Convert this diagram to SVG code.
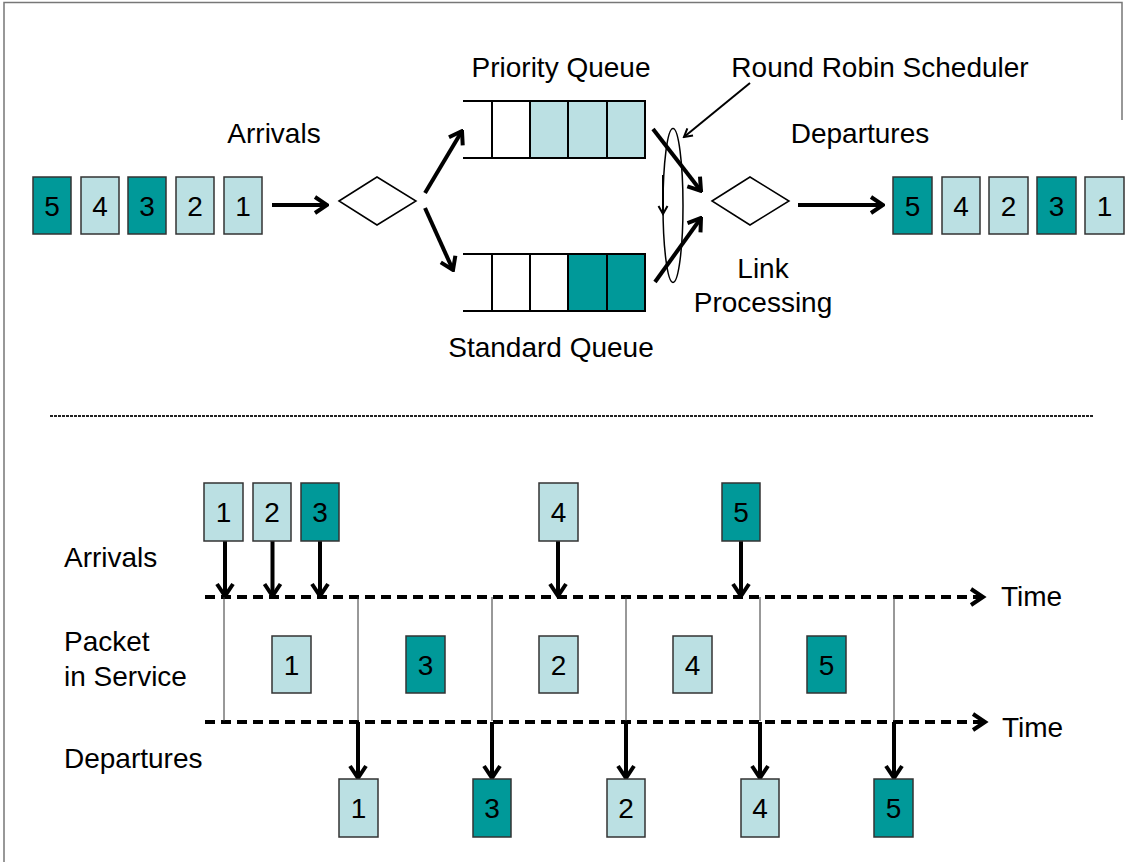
<svg xmlns="http://www.w3.org/2000/svg" width="1143" height="862" viewBox="0 0 1143 862">
<defs>
<style>
text{font-family:"Liberation Sans",Arial,sans-serif;font-size:28px;fill:#000}
.c{text-anchor:middle}
.lt{fill:#BBE0E3;stroke:#333;stroke-width:1.5}
.dk{fill:#009999;stroke:#333;stroke-width:1.5}
.q{stroke:#000;stroke-width:2;fill:none}
.a{stroke:#000;stroke-width:4;fill:none;marker-end:url(#ah)}
.as{stroke:#000;stroke-width:2;fill:none;marker-end:url(#ahs)}
.dash{stroke:#000;stroke-width:4;stroke-dasharray:10 6;fill:none}
.thin{stroke:#333;stroke-width:1;fill:none}
</style>
<marker id="ah" markerUnits="userSpaceOnUse" viewBox="-15 -10 17 20" refX="0" refY="0" markerWidth="17" markerHeight="20" orient="auto">
<path d="M-12,-8 L0,0 L-12,8" fill="none" stroke="#000" stroke-width="4"/>
</marker>
<marker id="ahs" markerUnits="userSpaceOnUse" viewBox="-10 -6 12 12" refX="0" refY="0" markerWidth="12" markerHeight="12" orient="auto">
<path d="M-8,-4.5 L0,0 L-8,4.5" fill="none" stroke="#000" stroke-width="2"/>
</marker>
</defs>
<rect width="1143" height="862" fill="#fff"/>
<g id="frame" stroke="#777" stroke-width="1.5" fill="none">
<path d="M4,862 V2.5 H1122 V120"/>
</g>

<g id="connectors">
<line class="a" x1="272" y1="205" x2="327" y2="205"/>
<line class="a" x1="425" y1="193" x2="462" y2="131"/>
<line class="a" x1="425" y1="208" x2="453" y2="270"/>
<line class="a" x1="653" y1="129" x2="701" y2="191"/>
<line class="a" x1="655" y1="282" x2="701" y2="218"/>
<line class="as" x1="663" y1="175" x2="663" y2="214" stroke-width="2.5"/>
<line class="as" x1="750" y1="83" x2="684" y2="137"/>
<line class="a" x1="798" y1="205" x2="883" y2="205"/>
<line x1="50" y1="416" x2="1093" y2="416" stroke="#222" stroke-width="2" stroke-dasharray="3 1"/>
<line class="dash" x1="205" y1="597" x2="981" y2="597"/>
<path d="M971,589 L983,597 L971,605" fill="none" stroke="#000" stroke-width="4"/>
<line class="dash" x1="205" y1="722" x2="983" y2="722"/>
<path d="M973,714 L985,722 L973,730" fill="none" stroke="#000" stroke-width="4"/>
<line class="a" x1="225" y1="541" x2="225" y2="596"/>
<line class="a" x1="272.5" y1="541" x2="272.5" y2="596"/>
<line class="a" x1="320" y1="541" x2="320" y2="596"/>
<line class="a" x1="558" y1="541" x2="558" y2="596"/>
<line class="a" x1="741" y1="541" x2="741" y2="596"/>
<line class="thin" x1="224" y1="597" x2="224" y2="721"/>
<line class="thin" x1="358" y1="597" x2="358" y2="721"/>
<line class="thin" x1="492" y1="597" x2="492" y2="721"/>
<line class="thin" x1="626" y1="597" x2="626" y2="721"/>
<line class="thin" x1="760" y1="597" x2="760" y2="721"/>
<line class="thin" x1="894" y1="597" x2="894" y2="721"/>
<line class="a" x1="358" y1="722" x2="358" y2="778"/>
<line class="a" x1="492" y1="722" x2="492" y2="778"/>
<line class="a" x1="626" y1="722" x2="626" y2="778"/>
<line class="a" x1="760" y1="722" x2="760" y2="778"/>
<line class="a" x1="894" y1="722" x2="894" y2="778"/>
</g>

<g id="labels">
<text class="c" x="561" y="77">Priority Queue</text>
<text class="c" x="880" y="77">Round Robin Scheduler</text>
<text class="c" x="274" y="143">Arrivals</text>
<text class="c" x="860" y="143">Departures</text>
<text class="c" x="763" y="278">Link</text>
<text class="c" x="763" y="312">Processing</text>
<text class="c" x="551" y="357">Standard Queue</text>
<text x="64" y="567">Arrivals</text>
<text x="64" y="651">Packet</text>
<text x="64" y="686">in Service</text>
<text x="64" y="768">Departures</text>
<text x="1001" y="606">Time</text>
<text x="1002" y="737">Time</text>
</g>

<g id="arrivals-top">
<rect class="dk" x="33" y="177" width="38" height="57"/><text class="c" x="52" y="216">5</text>
<rect class="lt" x="81" y="177" width="38" height="57"/><text class="c" x="100" y="216">4</text>
<rect class="dk" x="128" y="177" width="38" height="57"/><text class="c" x="147" y="216">3</text>
<rect class="lt" x="176" y="177" width="38" height="57"/><text class="c" x="195" y="216">2</text>
<rect class="lt" x="224" y="177" width="38" height="57"/><text class="c" x="243" y="216">1</text>
</g>

<g id="classifier">
<polygon points="339,201 377,177 416,201 377,225" fill="#fff" stroke="#000" stroke-width="1.5"/>
</g>

<g id="priority-queue">
<rect x="530" y="101" width="115" height="57" fill="#BBE0E3"/>
<path class="q" d="M463,101 H645 V158 H463 M492,101 V158 M530,101 V158 M568,101 V158 M607,101 V158"/>
</g>

<g id="standard-queue">
<rect x="568" y="254" width="77" height="57" fill="#009999"/>
<path class="q" d="M463,254 H645 V311 H463 M492,254 V311 M530,254 V311 M568,254 V311 M607,254 V311"/>
</g>

<g id="scheduler">
<ellipse cx="673" cy="205.5" rx="10" ry="77" fill="none" stroke="#000" stroke-width="1.5"/>
</g>

<g id="link">
<polygon points="712,201 750,177 789,201 750,225" fill="#fff" stroke="#000" stroke-width="1.5"/>
</g>

<g id="departures-top">
<rect class="dk" x="893" y="177" width="39" height="57"/><text class="c" x="912.5" y="216">5</text>
<rect class="lt" x="942" y="177" width="38" height="57"/><text class="c" x="961" y="216">4</text>
<rect class="lt" x="989" y="177" width="39" height="57"/><text class="c" x="1008.5" y="216">2</text>
<rect class="dk" x="1037" y="177" width="39" height="57"/><text class="c" x="1056.5" y="216">3</text>
<rect class="lt" x="1085" y="177" width="39" height="57"/><text class="c" x="1104.5" y="216">1</text>
</g>

<g id="arrivals-timeline">
<rect class="lt" x="204" y="483" width="39" height="58"/><text class="c" x="223.5" y="522">1</text>
<rect class="lt" x="253" y="483" width="38" height="58"/><text class="c" x="272" y="522">2</text>
<rect class="dk" x="301" y="483" width="38" height="58"/><text class="c" x="320" y="522">3</text>
<rect class="lt" x="539" y="483" width="39" height="58"/><text class="c" x="558.5" y="522">4</text>
<rect class="dk" x="722" y="483" width="38" height="58"/><text class="c" x="741" y="522">5</text>
</g>

<g id="service-timeline">
<rect class="lt" x="272" y="636" width="39" height="57"/><text class="c" x="291.5" y="675">1</text>
<rect class="dk" x="406" y="636" width="39" height="57"/><text class="c" x="425.5" y="675">3</text>
<rect class="lt" x="539" y="636" width="39" height="57"/><text class="c" x="558.5" y="675">2</text>
<rect class="lt" x="673" y="636" width="39" height="57"/><text class="c" x="692.5" y="675">4</text>
<rect class="dk" x="807" y="636" width="39" height="57"/><text class="c" x="826.5" y="675">5</text>
</g>

<g id="departures-timeline">
<rect class="lt" x="339" y="779" width="39" height="58"/><text class="c" x="358.5" y="818">1</text>
<rect class="dk" x="473" y="779" width="38" height="58"/><text class="c" x="492" y="818">3</text>
<rect class="lt" x="607" y="779" width="38" height="58"/><text class="c" x="626" y="818">2</text>
<rect class="lt" x="741" y="779" width="38" height="58"/><text class="c" x="760" y="818">4</text>
<rect class="dk" x="874" y="779" width="39" height="58"/><text class="c" x="893.5" y="818">5</text>
</g>
</svg>
